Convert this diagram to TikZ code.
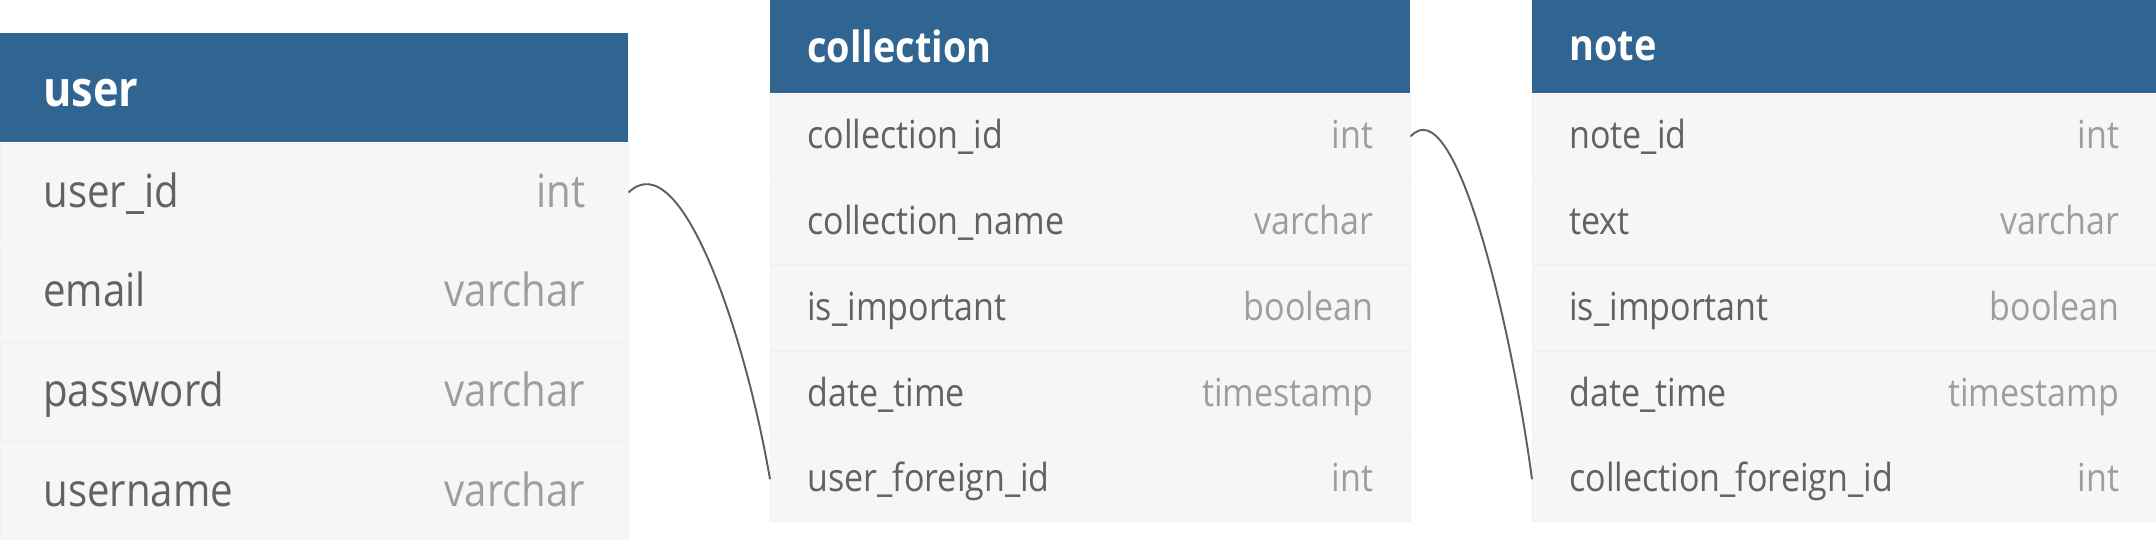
\documentclass[tikz,border=0pt]{standalone}
\usepackage{fontspec}
\setmainfont{Open Sans}[FakeStretch=0.88]
\usetikzlibrary{positioning}
\definecolor{cHead}{RGB}{49,101,145}
\definecolor{cBody}{RGB}{246,246,246}
\definecolor{cLine}{RGB}{241,241,241}
\definecolor{cName}{RGB}{98,98,98}
\definecolor{cType}{RGB}{158,158,158}
\definecolor{cLink}{RGB}{95,95,95}
\newcommand{\fld}[2]{#1\hfill\textcolor{cType}{#2}}
\tikzset{
	tbl/.style ={rectangle, inner ysep=0pt, align=left},
	hdr/.style ={tbl, fill=cHead, text=white},
	row/.style ={tbl, fill=cBody, draw=cLine, text=cName},
	link/.style={cLink, line width=1.1pt},
	% table sizes
	ubox/.style={minimum height=1.98cm, inner xsep=0.86cm, text width=10.84cm},
	cbox/.style={minimum height=1.7cm, inner xsep=0.74cm, text width=11.32cm},
	nbox/.style={minimum height=1.7cm, inner xsep=0.74cm, text width=11cm},
}

\begin{document}
\begin{tikzpicture}[x=0.02cm, y=-0.02cm,
		uhead/.style={hdr, ubox, minimum height=2.18cm, text height=21pt, text depth=0pt, font=\fontsize{28}{32}\selectfont\bfseries},
		urow/.style ={row, ubox, text height=21pt, text depth=4.5pt, font=\fontsize{26}{30}\selectfont},
		chead/.style={hdr, cbox, minimum height=1.86cm, font=\fontsize{24.5}{28}\selectfont\bfseries},
		crow/.style ={row, cbox, text height=18pt, text depth=3.8pt, font=\fontsize{22}{26}\selectfont},
		nhead/.style={hdr, nbox, minimum height=1.86cm, font=\fontsize{24.5}{28}\selectfont\bfseries},
		nrow/.style ={row, nbox, text height=18pt, text depth=3.8pt, font=\fontsize{22}{26}\selectfont}]
	\useasboundingbox (0,0) rectangle (2156,540);
	% user table
	\node[uhead, anchor=north west] (user) at (0,33) {user};
	\node[urow, below=0pt of user]   (uid)   {\fld{user\_id}{int}};
	\node[urow, below=0pt of uid]    (umail) {\fld{email}{varchar}};
	\node[urow, below=0pt of umail]  (upass) {\fld{password}{varchar}};
	\node[urow, below=0pt of upass]  (uname) {\fld{username}{varchar}};
	% collection table
	\node[chead, anchor=north west] (coll) at (770,0) {collection};
	\node[crow, below=0pt of coll]   (cid)   {\fld{collection\_id}{int}};
	\node[crow, below=0pt of cid]    (cname) {\fld{collection\_name}{varchar}};
	\node[crow, below=0pt of cname]  (cimp)  {\fld{is\_important}{boolean}};
	\node[crow, below=0pt of cimp]   (cdate) {\fld{date\_time}{timestamp}};
	\node[crow, below=0pt of cdate]  (cufk)  {\fld{user\_foreign\_id}{int}};
	% note table
	\node[nhead, anchor=north west] (note) at (1532,0) {note};
	\node[nrow, below=0pt of note]   (nid)   {\fld{note\_id}{int}};
	\node[nrow, below=0pt of nid]    (ntext) {\fld{text}{varchar}};
	\node[nrow, below=0pt of ntext]  (nimp)  {\fld{is\_important}{boolean}};
	\node[nrow, below=0pt of nimp]   (ndate) {\fld{date\_time}{timestamp}};
	\node[nrow, below=0pt of ndate]  (ncfk)  {\fld{collection\_foreign\_id}{int}};
	% references
	\draw[link] (uid.east) .. controls +(52,-51) and +(-25,-146) .. (cufk.west);
	\draw[link] (cid.east) .. controls +(45,-50) and +(-20,-150) .. (ncfk.west);
\end{tikzpicture}
\end{document}
